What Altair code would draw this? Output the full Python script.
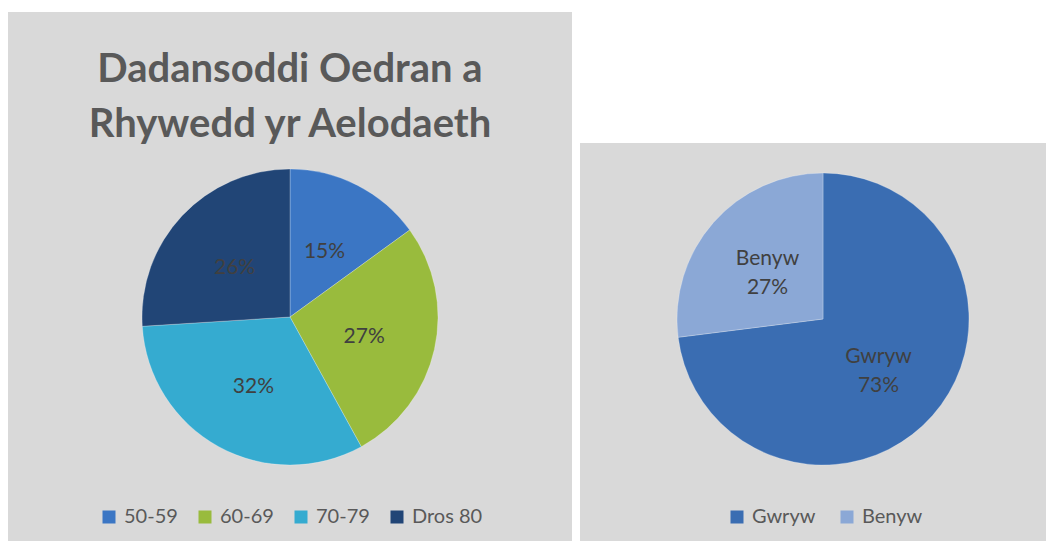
import altair as alt
import pandas as pd

# ---- data ----
age_groups = ["50-59", "60-69", "70-79", "Dros 80"]
age_pct = [15, 27, 32, 26]
age_colors = ["#3b76c4", "#99bb3d", "#35abd0", "#214576"]

genders = ["Gwryw", "Benyw"]
gender_pct = [73, 27]
gender_colors = ["#3a6db2", "#8ba8d6"]

title_lines = ["Dadansoddi Oedran a", "Rhywedd yr Aelodaeth"]

age_df = pd.DataFrame({"grp": age_groups, "pct": age_pct, "ord": list(range(len(age_groups)))})
age_df["label"] = age_df["pct"].astype(str) + "%"

gen_df = pd.DataFrame({"sex": genders, "pct": gender_pct, "ord": list(range(len(genders)))})
gen_df["label"] = gen_df["sex"] + "\n" + gen_df["pct"].astype(str) + "%"

dummy = pd.DataFrame({"a": [0]})

FONT = "Lato"
PANEL = "#d9d9d9"
W, H = 1038, 533

# ---- panels ----
left_panel = alt.Chart(dummy).mark_rect(color=PANEL).encode(
    x=alt.value(0), x2=alt.value(564), y=alt.value(4), y2=alt.value(H)
)
right_panel = alt.Chart(dummy).mark_rect(color=PANEL).encode(
    x=alt.value(572), x2=alt.value(W), y=alt.value(135), y2=alt.value(H)
)

title = alt.Chart(dummy).mark_text(
    text=title_lines, font=FONT, fontWeight="bold", fontSize=40, color="#595959",
    align="center", baseline="alphabetic", lineHeight=55
).encode(x=alt.value(282), y=alt.value(74))

# ---- left pie ----
LCX, LCY = 282, 309
left_base = alt.Chart(age_df).encode(
    theta=alt.Theta("pct:Q", stack=True),
    order=alt.Order("ord:Q"),
)
left_arc = left_base.mark_arc(radius=148, stroke="#ffffff", strokeOpacity=0.25, strokeWidth=1).encode(
    color=alt.Color(
        "grp:N",
        scale=alt.Scale(domain=age_groups, range=age_colors),
        legend=alt.Legend(
            title=None, orient="none", legendX=91, legendY=499, direction="horizontal",
            symbolType="square", symbolSize=169, symbolStrokeWidth=0, symbolOpacity=1,
            labelFont=FONT, labelFontSize=20, labelColor="#595959",
            labelOffset=5, columnPadding=17, padding=0,
        ),
    ),
    x=alt.value(LCX), y=alt.value(LCY),
)
left_text = left_base.mark_text(radius=76, font=FONT, fontSize=21, color="#404040", dy=3).encode(
    text="label:N", detail="grp:N", x=alt.value(LCX), y=alt.value(LCY)
)

# ---- right pie ----
RCX, RCY = 815, 311
right_base = alt.Chart(gen_df).encode(
    theta=alt.Theta("pct:Q", stack=True),
    order=alt.Order("ord:Q"),
)
right_arc = right_base.mark_arc(radius=146, stroke="#ffffff", strokeOpacity=0.25, strokeWidth=1).encode(
    color=alt.Color(
        "sex:N",
        scale=alt.Scale(domain=genders, range=gender_colors),
        legend=alt.Legend(
            title=None, orient="none", legendX=719, legendY=499, direction="horizontal",
            symbolType="square", symbolSize=169, symbolStrokeWidth=0, symbolOpacity=1,
            labelFont=FONT, labelFontSize=20, labelColor="#595959",
            labelOffset=5, columnPadding=21, padding=0,
        ),
    ),
    x=alt.value(RCX), y=alt.value(RCY),
)
right_text = right_base.mark_text(
    radius=74, font=FONT, fontSize=21, color="#404040", lineBreak="\n", lineHeight=29, dy=-11
).encode(text="label:N", detail="sex:N", x=alt.value(RCX), y=alt.value(RCY))

chart = alt.layer(
    left_panel, right_panel, title, left_arc, left_text, right_arc, right_text
).resolve_scale(color="independent").properties(
    width=W, height=H, autosize=alt.AutoSizeParams(type="none"), padding=0
).configure(background="white").configure_view(stroke=None)

chart.save("out.html", embed_options={"renderer": "svg", "actions": False})
